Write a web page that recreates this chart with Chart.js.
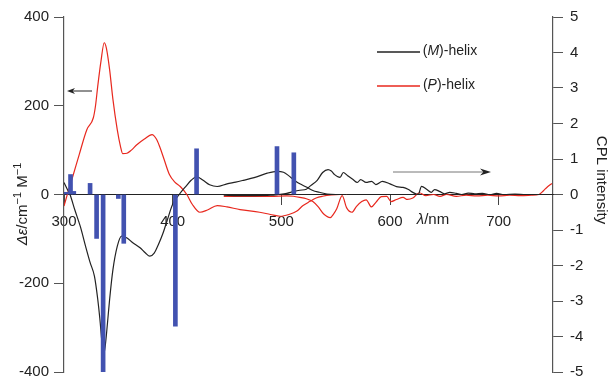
<!DOCTYPE html>
<html>
<head>
<meta charset="utf-8">
<script src="https://cdn.jsdelivr.net/npm/chart.js@4"></script>
<style>
  html, body { margin: 0; padding: 0; background: #fff; }
</style>
</head>
<body>
<canvas id="myChart" width="608" height="379"></canvas>
<script>
// CD spectra (left axis, Δε)
const cdMWl  = [300, 303, 305.5, 310, 315, 320, 324, 328, 331, 333, 335, 336.5, 338, 340, 342, 345, 349, 353, 358, 363, 370, 375, 379, 383, 387, 391, 395, 400, 406, 412, 417, 422, 428, 434, 441, 450, 458, 465, 475, 487, 496, 502, 507, 511, 517, 523, 529, 535, 542, 550, 560];
const cdMVal = [27, 12, 0, -35, -72, -118, -153, -184, -235, -280, -335, -360, -340, -290, -236, -170, -117, -94, -98, -108, -120, -132, -139, -132, -112, -88, -58, -22, 0, 18, 32, 40, 32, 22, 18, 24, 28, 32, 38, 48, 52, 50, 42, 34, 24, 17, 9, 5, 1, 0, 0];

const cdPWl  = [300, 304, 308, 314, 321, 327, 329, 331, 334, 337, 339, 342, 345, 349, 352, 354, 358, 362, 367, 374, 381, 385, 388, 392, 397, 402, 407, 413, 418, 425, 432, 441, 450, 462, 480, 490, 499, 507, 514, 520, 526, 532, 538, 546, 554, 560];
const cdPVal = [-26, 8, 40, 90, 146, 173, 200, 243, 300, 342, 330, 281, 215, 146, 108, 92, 93, 100, 112, 125, 135, 125, 108, 80, 45, 28, 18, 0, -22, -40, -35, -25, -28, -34, -40, -45, -49, -45, -38, -25, -16, -8, -4, -1, 0, 0];

// CPL spectra (right axis)
const cplMWl  = [447, 460, 475, 490, 497, 505, 511, 517, 523, 527, 533, 538, 543, 546, 549, 554, 557, 561, 566, 570, 573, 578, 583, 587, 593, 600, 606, 612, 617, 621, 626, 629, 634, 638, 641, 646, 650, 655, 661, 666, 672, 678, 685, 692, 698, 705, 715, 725, 735, 742, 750];
const cplMVal = [-0.02, -0.03, -0.03, -0.02, 0, 0.03, 0.08, 0.12, 0.15, 0.25, 0.4, 0.62, 0.7, 0.66, 0.56, 0.48, 0.62, 0.53, 0.42, 0.34, 0.42, 0.34, 0.37, 0.28, 0.37, 0.3, 0.22, 0.2, 0.14, 0.06, 0, 0.23, 0.14, 0.06, 0.14, 0.08, 0.02, 0.06, 0.03, 0, 0.04, 0.02, 0.03, 0, 0.03, 0, 0.01, 0, 0, 0, 0];

const cplPWl  = [447, 460, 475, 490, 505, 511, 517, 523, 529, 534, 539, 545, 548, 551, 556, 560, 565, 569, 574, 578, 583, 587, 592, 597, 601, 606, 612, 616, 621, 627, 633, 640, 646, 652, 661, 670, 680, 690, 700, 710, 720, 730, 737, 741, 745, 749];
const cplPVal = [-0.05, -0.05, -0.05, -0.05, -0.04, -0.05, -0.08, -0.12, -0.2, -0.35, -0.55, -0.65, -0.55, -0.4, -0.03, -0.37, -0.5, -0.34, -0.2, -0.15, -0.35, -0.22, -0.06, -0.05, -0.2, -0.14, -0.08, -0.14, -0.1, 0.05, -0.03, 0, -0.05, 0, -0.05, -0.02, -0.04, -0.02, -0.04, -0.02, -0.03, -0.02, 0, 0.1, 0.22, 0.31];

// calculated transitions (sticks, left axis)
const barWl  = [302, 306, 309, 324, 330, 336, 350, 355, 402.5, 422, 496, 511.5];
const barVal = [5, 45, 7, 25, -99, -400, -9, -110, -297, 103, 108, 94];

const xTicks = [300, 400, 500, 600, 700];

const font = 'Liberation Sans, Arial, sans-serif';
const toPts = (xs, ys) => xs.map((x, i) => ({ x: x, y: ys[i] }));

const drawArrow = (c, x1, y, x2, lineColor, headLen, headW) => {
  const dir = Math.sign(x2 - x1);
  c.strokeStyle = lineColor;
  c.lineWidth = 1;
  c.beginPath();
  c.moveTo(x1, y);
  c.lineTo(x2 - dir * headLen * 0.6, y);
  c.stroke();
  c.fillStyle = '#222';
  c.beginPath();
  c.moveTo(x2, y);
  c.lineTo(x2 - dir * headLen, y - headW);
  c.lineTo(x2 - dir * headLen * 0.7, y);
  c.lineTo(x2 - dir * headLen, y + headW);
  c.closePath();
  c.fill();
};

// draws a run of text pieces centred on (0,0) of the current transform
const drawRich = (c, parts) => {
  let total = 0;
  parts.forEach(p => { c.font = p.f; total += c.measureText(p.t).width; });
  let x = -total / 2;
  parts.forEach(p => {
    c.font = p.f;
    c.fillText(p.t, x, p.dy || 0);
    x += c.measureText(p.t).width;
  });
};

// keep the plot area fixed, labels may overhang
const noVertPad = s => { s.paddingTop = 0; s.paddingBottom = 0; };

const extras = {
  id: 'extras',
  afterDraw(chart) {
    const c = chart.ctx;
    c.save();
    c.textBaseline = 'middle';
    c.textAlign = 'left';
    c.fillStyle = '#222';

    // legend
    c.lineWidth = 1.4;
    c.strokeStyle = '#222';
    c.beginPath(); c.moveTo(377, 52); c.lineTo(420, 52); c.stroke();
    c.strokeStyle = '#e8281e';
    c.beginPath(); c.moveTo(377, 86); c.lineTo(420, 86); c.stroke();
    c.save(); c.translate(450, 51); drawRich(c, [
      { t: '(', f: '14px ' + font }, { t: 'M', f: 'italic 14px ' + font }, { t: ')-helix', f: '14px ' + font }
    ]); c.restore();
    c.save(); c.translate(449, 85); drawRich(c, [
      { t: '(', f: '14px ' + font }, { t: 'P', f: 'italic 14px ' + font }, { t: ')-helix', f: '14px ' + font }
    ]); c.restore();

    // x unit
    c.save(); c.translate(433, 220); drawRich(c, [
      { t: 'λ', f: 'italic 15px ' + font }, { t: '/nm', f: '15px ' + font }
    ]); c.restore();

    // arrows
    drawArrow(c, 92, 91, 67, '#222', 8, 3);
    drawArrow(c, 393, 172, 491, '#777', 11, 3.5);

    // left title
    c.save(); c.translate(23, 204); c.rotate(-Math.PI / 2);
    drawRich(c, [
      { t: 'Δε', f: 'italic 15px ' + font },
      { t: '/cm', f: '15px ' + font },
      { t: '−1', f: '11px ' + font, dy: -5 },
      { t: ' M', f: '15px ' + font },
      { t: '−1', f: '11px ' + font, dy: -5 }
    ]);
    c.restore();

    // right title
    c.save(); c.translate(601, 180); c.rotate(Math.PI / 2);
    drawRich(c, [{ t: 'CPL intensity', f: '15px ' + font }]);
    c.restore();

    c.restore();
  }
};

const ctx = document.getElementById('myChart');

const chart = new Chart(ctx, {
  type: 'line',
  data: {
    datasets: [{
      type: 'bar',
      label: 'transitions',
      data: toPts(barWl, barVal),
      backgroundColor: 'rgb(66, 82, 176)',
      barThickness: 4,
      yAxisID: 'y',
      order: 0
    },
    {
      label: '(M)-helix CD',
      data: toPts(cdMWl, cdMVal),
      borderColor: '#222',
      yAxisID: 'y',
      order: 2
    },
    {
      label: '(P)-helix CD',
      data: toPts(cdPWl, cdPVal),
      borderColor: '#e8281e',
      yAxisID: 'y',
      order: 2
    },
    {
      label: '(M)-helix CPL',
      data: toPts(cplMWl, cplMVal),
      borderColor: '#222',
      yAxisID: 'y2',
      order: 1
    },
    {
      label: '(P)-helix CPL',
      data: toPts(cplPWl, cplPVal),
      borderColor: '#e8281e',
      yAxisID: 'y2',
      order: 1
    }]
  },
  options: {
    responsive: false,
    animation: false,
    events: [],
    layout: { padding: { top: 17, bottom: 7, left: 0, right: 0 } },
    elements: {
      point: { radius: 0 },
      line: { borderWidth: 1.2, cubicInterpolationMode: 'monotone', fill: false }
    },
    plugins: {
      legend: { display: false },
      tooltip: { enabled: false }
    },
    scales: {
      x: {
        type: 'linear',
        min: 300,
        max: 750,
        offset: false,
        position: { y: 0 },
        border: { color: '#222', width: 1 },
        grid: { offset: false, drawOnChartArea: false, drawTicks: true, tickLength: 10, color: '#444' },
        afterBuildTicks: s => { s.ticks = xTicks.map(v => ({ value: v })); },
        ticks: {
          autoSkip: false,
          maxRotation: 0,
          padding: 8,
          color: '#222',
          font: { size: 15, family: font }
        },
        afterFit: s => { s.height = 0; }
      },
      y: {
        position: 'left',
        min: -400,
        max: 400,
        border: { color: '#555', width: 1.2 },
        grid: { drawOnChartArea: false, tickLength: 10, color: '#555' },
        ticks: { stepSize: 200, padding: 5, color: '#222', font: { size: 15, family: font } },
        afterFit: s => { s.width = 64; noVertPad(s); }
      },
      y2: {
        position: 'right',
        min: -5,
        max: 5,
        border: { color: '#555', width: 1.2 },
        grid: { drawOnChartArea: false, tickLength: 10, color: '#555' },
        ticks: { stepSize: 1, padding: 7, color: '#222', font: { size: 15, family: font } },
        afterFit: s => { s.width = 55; noVertPad(s); }
      }
    }
  },
  plugins: [extras]
});
</script>
</body>
</html>
